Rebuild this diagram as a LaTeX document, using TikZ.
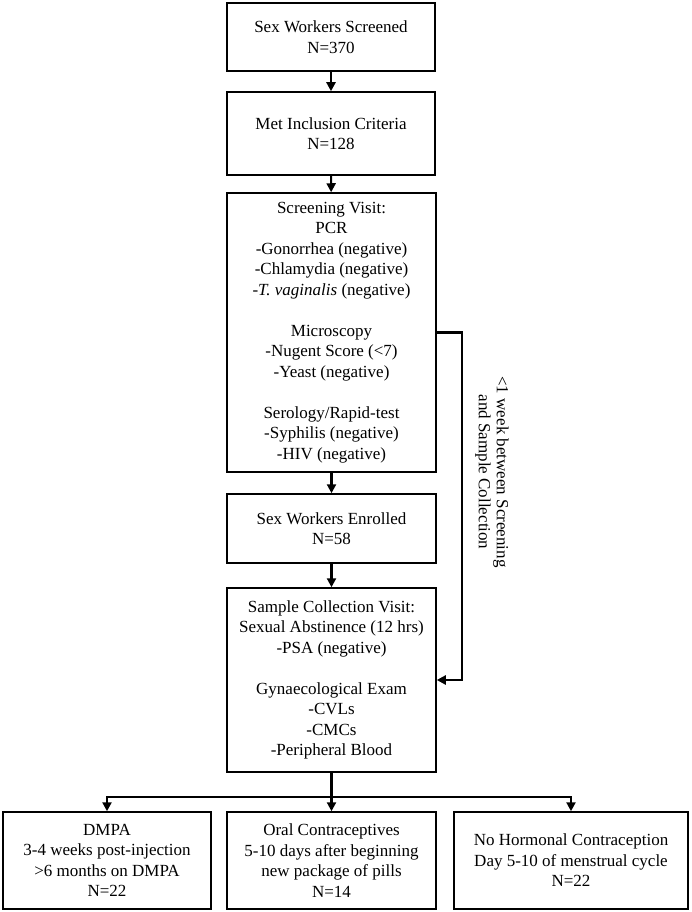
\documentclass[tikz,border=0pt]{standalone}
\usepackage{fontspec}
\setmainfont{Liberation Serif}
\usetikzlibrary{arrows.meta}
\begin{document}
\begin{tikzpicture}[x=1pt,y=-1pt,
  box/.style={draw,line width=1.5pt,rectangle,inner sep=0pt,align=center,
    font=\fontsize{17}{20.5}\selectfont},
  arr/.style={line width=2.2pt,-{Triangle[length=9pt,width=9pt]}},
  conn/.style={line width=2.2pt}]
\useasboundingbox (0,0) rectangle (691,912);
\node[box,minimum width=208pt,minimum height=68pt] (b1) at (331,37) {Sex Workers Screened\\N=370};
\node[box,minimum width=208pt,minimum height=83pt] (b2) at (331,133.5) {Met Inclusion Criteria\\N=128};
\node[box,minimum width=209pt,minimum height=279pt] (b3) at (331.5,332.5) {Screening Visit:\\PCR\\-Gonorrhea (negative)\\-Chlamydia (negative)\\\textit{-T. vaginalis} (negative)\\[20.5pt]Microscopy\\-Nugent Score (<7)\\-Yeast (negative)\\[20.5pt]Serology/Rapid-test\\-Syphilis (negative)\\-HIV (negative)};
\node[box,minimum width=209pt,minimum height=69pt] (b4) at (331.5,528.5) {Sex Workers Enrolled\\N=58};
\node[box,minimum width=209pt,minimum height=184pt] (b5) at (331.5,680) {Sample Collection Visit:\\Sexual Abstinence (12 hrs)\\-PSA (negative)\\[20.5pt]Gynaecological Exam\\-CVLs\\-CMCs\\-Peripheral Blood};
\node[box,minimum width=208pt,minimum height=97pt] (c1) at (107,860.5) {DMPA\\3-4 weeks post-injection\\>6 months on DMPA\\N=22};
\node[box,minimum width=209pt,minimum height=97pt] (c2) at (331.5,860.5) {Oral Contraceptives\\5-10 days after beginning\\new package of pills\\N=14};
\node[box,minimum width=234pt,minimum height=97pt] (c3) at (571,860.5) {No Hormonal Contraception\\Day 5-10 of menstrual cycle\\N=22};
\node[rotate=-90,align=center,font=\fontsize{17}{18}\selectfont] (side) at (492,472) {<1 week between Screening\\and Sample Collection};
\draw[arr] (b1) -- (b2);
\draw[arr] (b2) -- (b3);
\draw[arr] (b3) -- (b4);
\draw[arr] (b4) -- (b5);
\coordinate (sc) at (462,332.5);
\draw[arr] (b3.east) -- (sc) |- (b5.east);
\coordinate (br) at (331.5,797);
\draw[arr] (b5.south) -- (c2.north);
\draw[arr] (br) -| (c1.north);
\draw[arr] (br) -| (c3.north);
\end{tikzpicture}
\end{document}
